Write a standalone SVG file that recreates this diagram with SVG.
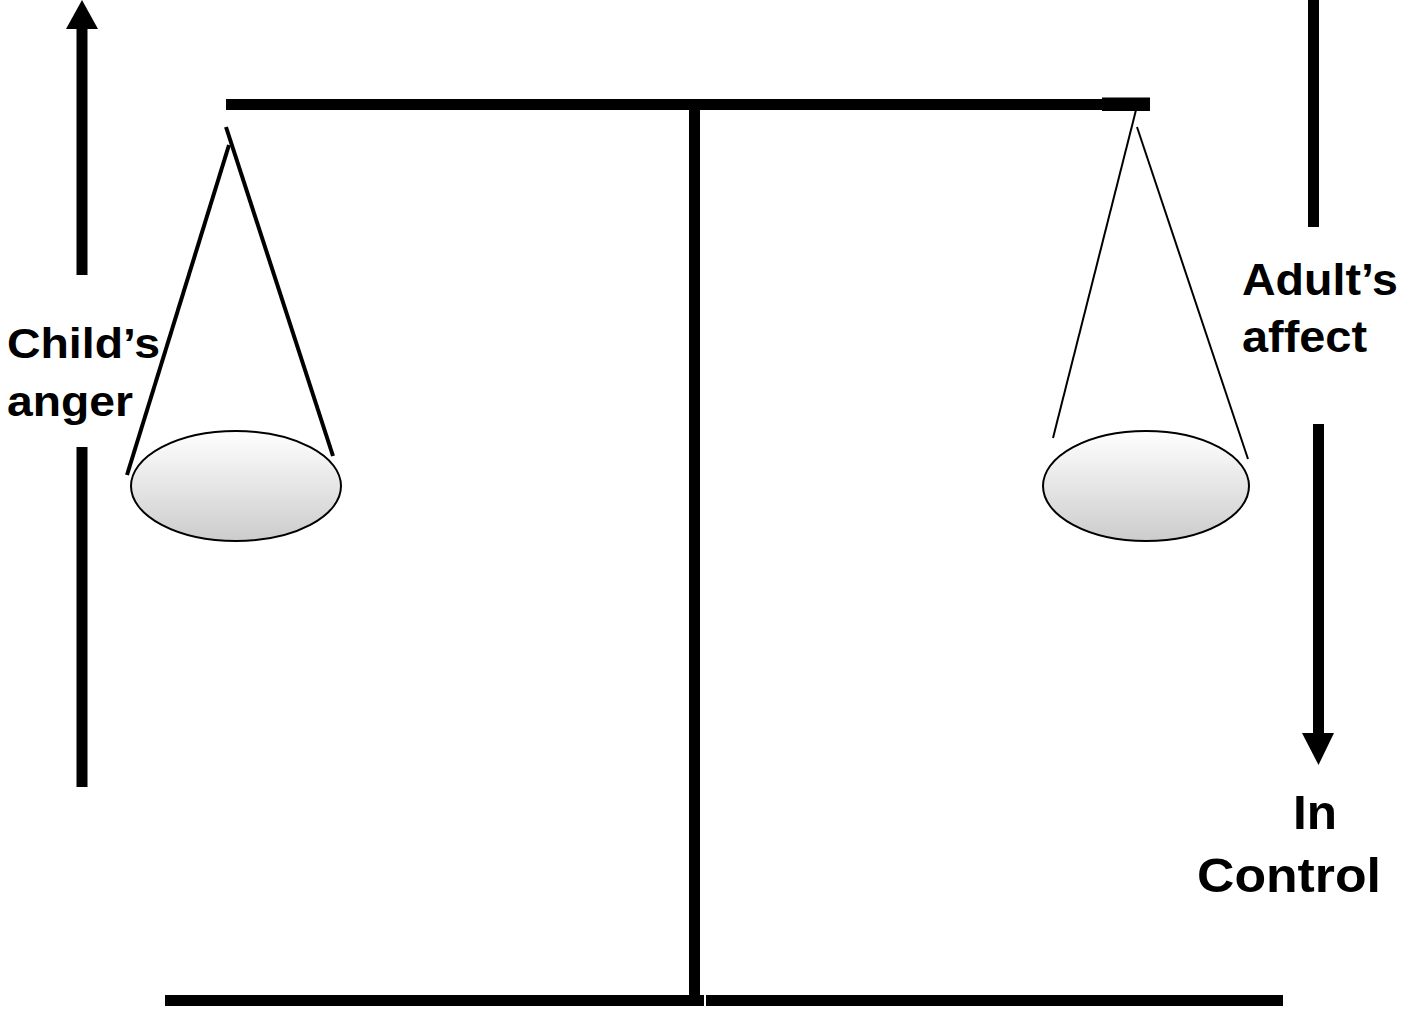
<svg xmlns="http://www.w3.org/2000/svg" width="1404" height="1010" viewBox="0 0 1404 1010">
<style>
.lbl{font-family:"Liberation Sans",Arial,sans-serif;font-weight:bold;fill:#000}
.bar{fill:#000}
.pan{stroke:#000;stroke-width:2;fill:url(#pg)}
</style>
<defs>
<linearGradient id="pg" x1="0" y1="0" x2="0" y2="1">
<stop offset="0" stop-color="#ffffff"/>
<stop offset="1" stop-color="#cccccc"/>
</linearGradient>
</defs>
<rect width="1404" height="1010" fill="#fff"/>
<g id="scale">
<rect class="bar" x="226" y="99" width="924" height="11"/>
<rect class="bar" x="1102" y="97.5" width="48" height="13.5"/>
<rect class="bar" x="689" y="105" width="11" height="895"/>
<rect class="bar" x="165" y="995" width="539" height="11"/>
<rect class="bar" x="706" y="995" width="577" height="11"/>
</g>
<g id="left-pan">
<line x1="226" y1="127" x2="333" y2="456" stroke="#000" stroke-width="4"/>
<line x1="229" y1="145" x2="127" y2="475" stroke="#000" stroke-width="4"/>
<ellipse class="pan" cx="236" cy="486" rx="105" ry="55"/>
</g>
<g id="right-pan">
<line x1="1136" y1="110" x2="1053" y2="438" stroke="#000" stroke-width="2"/>
<line x1="1137" y1="127" x2="1248" y2="459" stroke="#000" stroke-width="2"/>
<ellipse class="pan" cx="1146" cy="486" rx="103" ry="55"/>
</g>
<g id="connectors">
<polygon points="82,0 98,29 66,29" fill="#000"/>
<rect x="76.5" y="28" width="11" height="247" fill="#000"/>
<rect x="76.5" y="447" width="11" height="340" fill="#000"/>
<rect x="1308" y="0" width="11" height="227" fill="#000"/>
<rect x="1313" y="424" width="11" height="311" fill="#000"/>
<polygon points="1302,733 1334,733 1318.5,765" fill="#000"/>
</g>
<g id="labels">
<text class="lbl" x="7" y="358" font-size="42" textLength="153" lengthAdjust="spacingAndGlyphs">Child’s</text>
<text class="lbl" x="7" y="416" font-size="42" textLength="126" lengthAdjust="spacingAndGlyphs">anger</text>
<text class="lbl" x="1242" y="295" font-size="44" textLength="156" lengthAdjust="spacingAndGlyphs">Adult’s</text>
<text class="lbl" x="1242" y="352" font-size="44" textLength="125" lengthAdjust="spacingAndGlyphs">affect</text>
<text class="lbl" x="1293" y="829" font-size="48" textLength="44" lengthAdjust="spacingAndGlyphs">In</text>
<text class="lbl" x="1197" y="892" font-size="48" textLength="184" lengthAdjust="spacingAndGlyphs">Control</text>
</g>
</svg>
